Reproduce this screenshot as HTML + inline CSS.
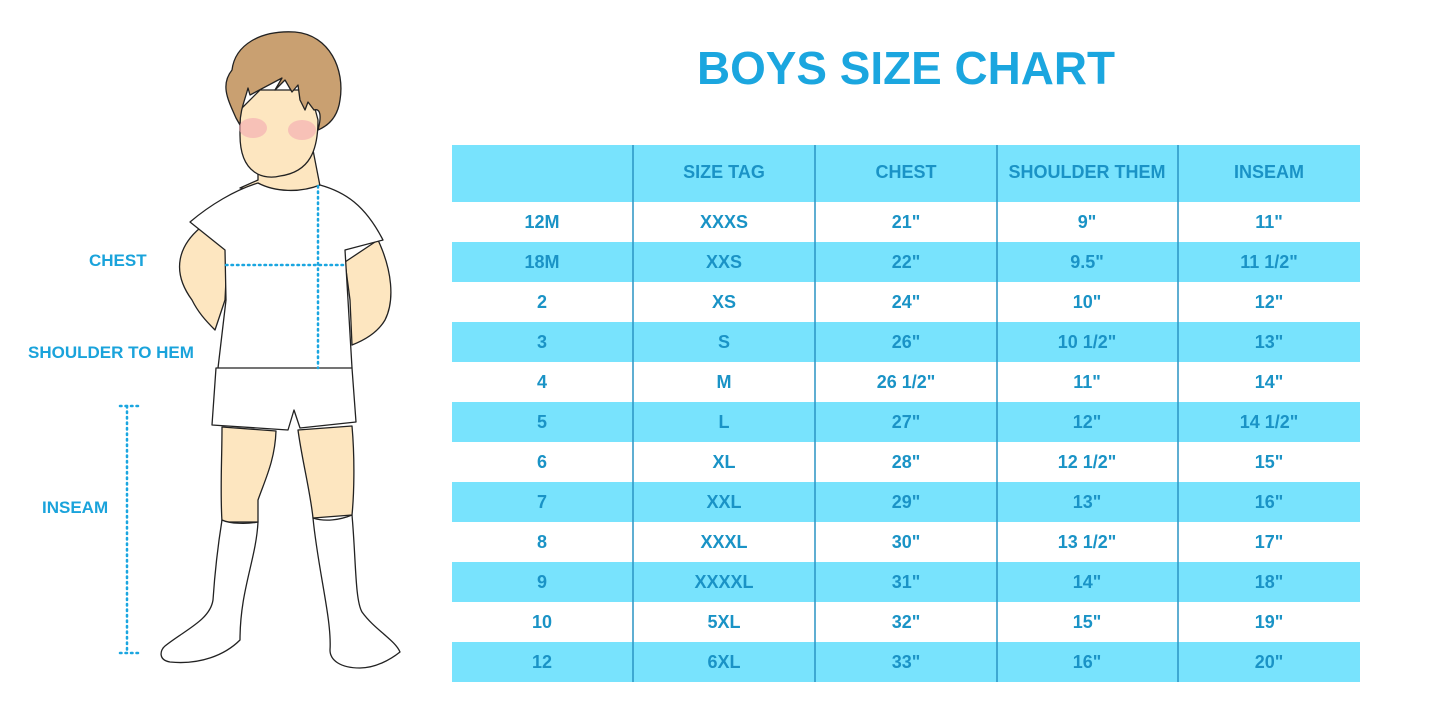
<!DOCTYPE html>
<html><head><meta charset="utf-8"><style>html,body{margin:0;padding:0;background:#fff}svg{display:block}</style></head><body>
<svg width="1445" height="723" viewBox="0 0 1445 723" xmlns="http://www.w3.org/2000/svg" font-family="Liberation Sans, sans-serif" font-weight="bold">
<rect width="1445" height="723" fill="#fff"/>
<!-- boy -->
<g stroke="#222" stroke-width="1.3" stroke-linejoin="round">
<path d="M192,300 C170,270 180,245 200,228 L228,240 L225,300 L215,330 C205,320 198,312 192,300Z" fill="#fde6c0"/>
<path d="M378,240 C392,270 395,300 385,320 C378,332 365,340 352,345 L350,300 L345,262Z" fill="#fde6c0"/>
<path d="M258,150 L258,180 L240,188 L300,196 L320,186 L313,150Z" fill="#fde6c0"/>
<path d="M190,222 C210,205 235,190 258,183 C275,192 300,193 320,185 C345,192 365,205 383,240 L345,250 L348,300 L352,368 C310,372 260,372 218,368 L226,300 L225,250Z" fill="#fff"/>
<path d="M240,135 C240,175 265,180 280,176 C310,172 318,150 318,120 L310,90 L260,90 L240,110Z" fill="#fde6c0"/>
<path d="M236,118 C228,100 220,85 232,70 C235,45 260,30 295,32 C330,35 345,70 340,100 C338,115 330,125 318,130 C322,115 320,108 314,110 L308,102 L305,110 L300,100 L298,85 L292,92 L285,80 L275,90 L282,78 L250,95 L248,88 C245,100 240,110 240,125Z" fill="#c9a071"/>
<path d="M216,368 L352,368 L356,422 L300,428 L294,410 L288,430 L212,425Z" fill="#fff"/>
<path d="M222,427 L276,431 C275,460 265,480 258,500 L258,522 L222,522 C220,490 222,460 222,427Z" fill="#fde6c0"/>
<path d="M298,430 L352,426 C355,460 354,495 352,515 L313,518 C310,490 302,460 298,430Z" fill="#fde6c0"/>
<path d="M222,520 C230,524 248,524 258,522 C256,560 240,590 240,640 C225,655 200,665 170,662 C158,660 160,650 165,646 C185,630 210,620 213,600 C215,570 218,545 222,520Z" fill="#fff"/>
<path d="M313,518 C325,522 340,520 352,515 C356,560 355,600 362,612 C375,630 395,640 400,652 C390,660 375,668 360,668 C340,668 330,660 330,650 C332,620 318,570 313,518Z" fill="#fff"/>
</g>
<ellipse cx="253" cy="128" rx="14" ry="10" fill="#f4a8b0" opacity="0.6"/>
<ellipse cx="302" cy="130" rx="14" ry="10" fill="#f4a8b0" opacity="0.6"/>
<g stroke="#1aa6e0" stroke-width="2.5" stroke-dasharray="1.5 4" stroke-linecap="round" fill="none">
<line x1="226" y1="265" x2="346" y2="265"/>
<line x1="318" y1="186" x2="318" y2="368"/>
<line x1="127" y1="406" x2="127" y2="653"/>
<line x1="120" y1="406" x2="138" y2="406"/>
<line x1="120" y1="653" x2="138" y2="653"/>
</g>
<g fill="#1aa3db" font-size="17">
<text x="89" y="266">CHEST</text>
<text x="28" y="358">SHOULDER TO HEM</text>
<text x="42" y="513">INSEAM</text>
</g>
<text x="906" y="84" text-anchor="middle" font-size="46" fill="#1ba6df" textLength="418" lengthAdjust="spacingAndGlyphs">BOYS SIZE CHART</text>
<!-- table -->
<rect x="452" y="145" width="908" height="57" fill="#78e3fd"/>
<g fill="#78e3fd">
<rect x="452" y="242" width="908" height="40"/><rect x="452" y="322" width="908" height="40"/><rect x="452" y="402" width="908" height="40"/><rect x="452" y="482" width="908" height="40"/><rect x="452" y="562" width="908" height="40"/><rect x="452" y="642" width="908" height="40"/>
</g>
<g stroke="#2a94c4" stroke-width="1.5">
<line x1="633" y1="145" x2="633" y2="682"/><line x1="815" y1="145" x2="815" y2="682"/><line x1="997" y1="145" x2="997" y2="682"/><line x1="1178" y1="145" x2="1178" y2="682"/>
</g>
<g fill="#1a93c6" font-size="18" text-anchor="middle">
<text x="724" y="178">SIZE TAG</text><text x="906" y="178">CHEST</text><text x="1087" y="178">SHOULDER THEM</text><text x="1269" y="178">INSEAM</text>
<text x="542" y="228">12M</text><text x="724" y="228">XXXS</text><text x="906" y="228">21"</text><text x="1087" y="228">9"</text><text x="1269" y="228">11"</text>
<text x="542" y="268">18M</text><text x="724" y="268">XXS</text><text x="906" y="268">22"</text><text x="1087" y="268">9.5"</text><text x="1269" y="268">11 1/2"</text>
<text x="542" y="308">2</text><text x="724" y="308">XS</text><text x="906" y="308">24"</text><text x="1087" y="308">10"</text><text x="1269" y="308">12"</text>
<text x="542" y="348">3</text><text x="724" y="348">S</text><text x="906" y="348">26"</text><text x="1087" y="348">10 1/2"</text><text x="1269" y="348">13"</text>
<text x="542" y="388">4</text><text x="724" y="388">M</text><text x="906" y="388">26 1/2"</text><text x="1087" y="388">11"</text><text x="1269" y="388">14"</text>
<text x="542" y="428">5</text><text x="724" y="428">L</text><text x="906" y="428">27"</text><text x="1087" y="428">12"</text><text x="1269" y="428">14 1/2"</text>
<text x="542" y="468">6</text><text x="724" y="468">XL</text><text x="906" y="468">28"</text><text x="1087" y="468">12 1/2"</text><text x="1269" y="468">15"</text>
<text x="542" y="508">7</text><text x="724" y="508">XXL</text><text x="906" y="508">29"</text><text x="1087" y="508">13"</text><text x="1269" y="508">16"</text>
<text x="542" y="548">8</text><text x="724" y="548">XXXL</text><text x="906" y="548">30"</text><text x="1087" y="548">13 1/2"</text><text x="1269" y="548">17"</text>
<text x="542" y="588">9</text><text x="724" y="588">XXXXL</text><text x="906" y="588">31"</text><text x="1087" y="588">14"</text><text x="1269" y="588">18"</text>
<text x="542" y="628">10</text><text x="724" y="628">5XL</text><text x="906" y="628">32"</text><text x="1087" y="628">15"</text><text x="1269" y="628">19"</text>
<text x="542" y="668">12</text><text x="724" y="668">6XL</text><text x="906" y="668">33"</text><text x="1087" y="668">16"</text><text x="1269" y="668">20"</text>
</g>
</svg>
</body></html>
